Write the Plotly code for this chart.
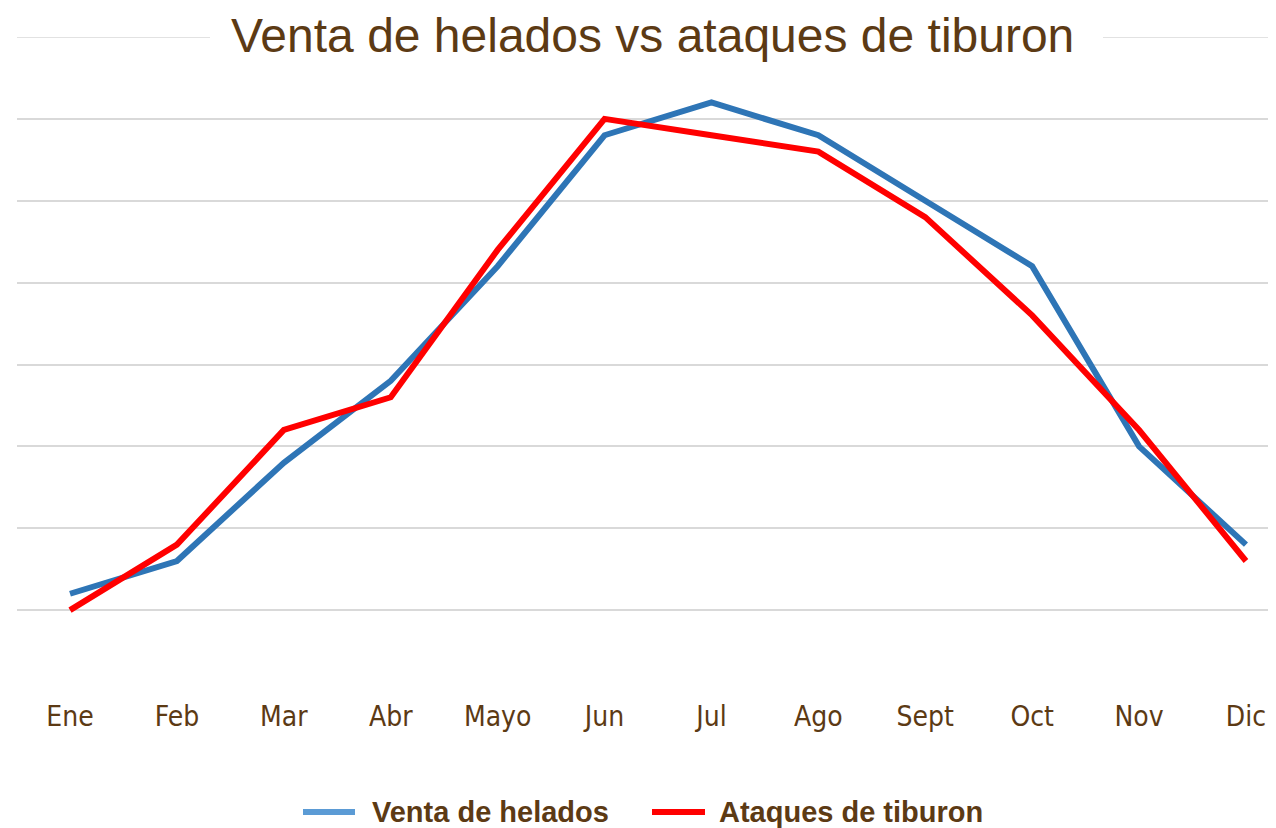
import plotly.graph_objects as go

months = ["Ene", "Feb", "Mar", "Abr", "Mayo", "Jun", "Jul", "Ago", "Sept", "Oct", "Nov", "Dic"]
venta_helados = [1.2, 1.6, 2.8, 3.8, 5.2, 6.8, 7.2, 6.8, 6.0, 5.2, 3.0, 1.8]
ataques_tiburon = [1.0, 1.8, 3.2, 3.6, 5.4, 7.0, 6.8, 6.6, 5.8, 4.6, 3.2, 1.6]
grid_vals = [1, 2, 3, 4, 5, 6, 7, 8]
series_names = ["Venta de helados", "Ataques de tiburon"]
legend_colors = ["#5B9BD5", "#FF0000"]

brown = "#5C3A14"
x = list(range(len(months)))

fig = go.Figure()
fig.add_trace(go.Scatter(x=x, y=venta_helados, mode="lines", name=series_names[0],
                         line=dict(color="#2E75B6", width=6), showlegend=False))
fig.add_trace(go.Scatter(x=x, y=ataques_tiburon, mode="lines", name=series_names[1],
                         line=dict(color="#FF0000", width=6), showlegend=False))

# page has an 8px body margin: figure occupies page pixels from (8, 8)
OFF = 8
W, H = 1276 - OFF, 828 - OFF
L, R, T, B = 17 - OFF, 0, 37 - OFF, 136
pw, ph = W - L - R, H - T - B


def px_to_paper_x(px):
    return (px - OFF - L) / pw


def px_to_paper_y(py):
    return (H - B - (py - OFF)) / ph


shapes = [
    # top gridline (at the edge of the plot area)
    dict(type="line", xref="paper", yref="y", x0=0, x1=1, y0=grid_vals[-1], y1=grid_vals[-1],
         line=dict(color="#D9D9D9", width=1.5), layer="below"),
    # white gap in the top gridline behind the title
    dict(type="rect", xref="paper", yref="paper",
         x0=px_to_paper_x(210), x1=px_to_paper_x(1103), y0=px_to_paper_y(44), y1=px_to_paper_y(30),
         fillcolor="white", line=dict(width=0), layer="above"),
]
annotations = [dict(text="Venta de helados vs ataques de tiburon", xref="paper", yref="paper",
                    x=px_to_paper_x(653), y=px_to_paper_y(8), xanchor="center", yanchor="top",
                    showarrow=False, borderpad=0,
                    font=dict(family="Liberation Sans, Arial", size=48, color=brown))]

# manual legend
leg_y = px_to_paper_y(812)
leg_items = [(303, 355, 370), (652, 705, 717)]
for (x0, x1, tx), name, col in zip(leg_items, series_names, legend_colors):
    shapes.append(dict(type="line", xref="paper", yref="paper",
                       x0=px_to_paper_x(x0), x1=px_to_paper_x(x1), y0=leg_y, y1=leg_y,
                       line=dict(color=col, width=6)))
    annotations.append(dict(text="<b>%s</b>" % name, xref="paper", yref="paper",
                            x=px_to_paper_x(tx), y=leg_y, xanchor="left", yanchor="middle",
                            showarrow=False,
                            font=dict(family="Liberation Sans, Arial", size=29, color=brown)))

fig.update_layout(
    width=W, height=H,
    margin=dict(l=L, r=R, t=T, b=B, autoexpand=False),
    paper_bgcolor="white", plot_bgcolor="white",
    showlegend=False,
    xaxis=dict(tickvals=x, ticktext=months, range=[-0.496, 11.281],
               showgrid=False, zeroline=False, showline=False, ticks="",
               tickfont=dict(family="DejaVu Sans Condensed, DejaVu Sans", size=28, color=brown),
               ticklabelstandoff=5),
    yaxis=dict(range=[0, 8], tickvals=grid_vals, showticklabels=False,
               showgrid=True, gridcolor="#D9D9D9", gridwidth=1.5,
               zeroline=False, showline=False, ticks=""),
    shapes=shapes,
    annotations=annotations,
)

fig.write_html("out.html")
